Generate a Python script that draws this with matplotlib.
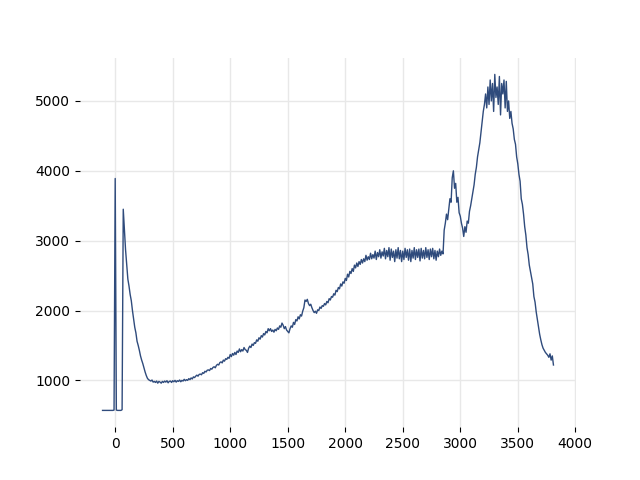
import numpy as np
import matplotlib
matplotlib.use("Agg")
import matplotlib.pyplot as plt

# samples every 10 units, starting at x = -110
x_start = -110
x_step = 10

signal = [
    570, 570, 570, 570, 570, 570, 570, 570, 570, 570,
    575, 3890, 575, 570, 570, 570, 570, 580, 3450, 3150,
    2870, 2650, 2450, 2350, 2230, 2140, 2000, 1880, 1760, 1680,
    1560, 1500, 1430, 1350, 1290, 1240, 1180, 1120, 1070, 1030,
    1010, 1000, 990, 1005, 975, 985, 970, 990, 960, 985,
    975, 960, 985, 970, 990, 975, 995, 965, 985, 990,
    970, 995, 980, 1000, 975, 995, 985, 1005, 980, 1000,
    990, 1015, 995, 1010, 1000, 1025, 1010, 1035, 1020, 1050,
    1040, 1060, 1075, 1060, 1085, 1090, 1080, 1110, 1100, 1130,
    1120, 1145, 1150, 1140, 1170, 1160, 1185, 1195, 1180, 1215,
    1230, 1220, 1255, 1265, 1250, 1290, 1275, 1310, 1300, 1330,
    1315, 1370, 1340, 1385, 1360, 1400, 1370, 1420, 1400, 1450,
    1410, 1440, 1420, 1470, 1440, 1430, 1400, 1460, 1490, 1470,
    1520, 1500, 1540, 1530, 1580, 1560, 1610, 1590, 1640, 1620,
    1670, 1650, 1700, 1680, 1740, 1710, 1740, 1700, 1720, 1690,
    1730, 1710, 1750, 1730, 1780, 1760, 1820, 1790, 1740, 1770,
    1720, 1700, 1680, 1740, 1780, 1760, 1830, 1800, 1870, 1850,
    1910, 1880, 1940, 1920, 1990, 2040, 2150, 2130, 2160, 2100,
    2070, 2090, 2040, 2000, 1970, 1990, 1960, 2010, 2000, 2050,
    2030, 2070, 2060, 2100, 2080, 2130, 2110, 2170, 2150, 2200,
    2190, 2240, 2220, 2290, 2270, 2330, 2310, 2380, 2350, 2410,
    2390, 2460, 2430, 2520, 2480, 2560, 2530, 2600, 2560, 2650,
    2610, 2680, 2630, 2700, 2660, 2730, 2680, 2740, 2700, 2790,
    2720, 2770, 2730, 2820, 2740, 2800, 2750, 2850, 2730, 2830,
    2770, 2870, 2750, 2840, 2780, 2890, 2740, 2860, 2770, 2900,
    2720, 2880, 2760, 2850, 2700, 2870, 2750, 2900, 2740, 2860,
    2700, 2850, 2730, 2890, 2760, 2870, 2720, 2880, 2700, 2860,
    2750, 2900, 2730, 2870, 2760, 2880, 2710, 2890, 2750, 2860,
    2740, 2900, 2760, 2870, 2730, 2880, 2770, 2890, 2740, 2860,
    2720, 2850, 2770, 2880, 2790, 2850, 2810, 3150, 3250, 3380,
    3300, 3450, 3600, 3550, 3900, 4000, 3750, 3820, 3550, 3620,
    3400, 3350, 3250, 3180, 3060, 3200, 3120, 3280, 3250, 3420,
    3500, 3600, 3700, 3800, 3950, 4050, 4200, 4300, 4400, 4550,
    4700, 4850, 4950, 5100, 4900, 5200, 4950, 5300, 5000, 5250,
    4850, 5380, 5050, 5200, 4950, 5350, 4800, 5250, 5100, 5300,
    4900, 5280, 4850, 5000, 4750, 4850, 4680, 4600, 4450, 4380,
    4200, 4100, 3950, 3850, 3600, 3520, 3380, 3200, 3080, 2900,
    2800, 2650, 2560, 2470, 2380, 2200, 2120, 1980, 1870, 1760,
    1660, 1580, 1510, 1460, 1430, 1400, 1380, 1360, 1330, 1380,
    1290, 1350, 1220,
]

xs = x_start + x_step * np.arange(len(signal))

fig, ax = plt.subplots(figsize=(6.4, 4.8), dpi=100)
ax.plot(xs, signal, color="#2f4b7c", linewidth=1)

ax.grid(True, color="#e8e8e8", linewidth=1)
ax.set_axisbelow(True)
for side in ax.spines.values():
    side.set_visible(False)
ax.tick_params(colors="black", length=3.5)
ax.set_xticks([0, 500, 1000, 1500, 2000, 2500, 3000, 3500, 4000])

fig.savefig("out.png", dpi=100)
plt.close(fig)
